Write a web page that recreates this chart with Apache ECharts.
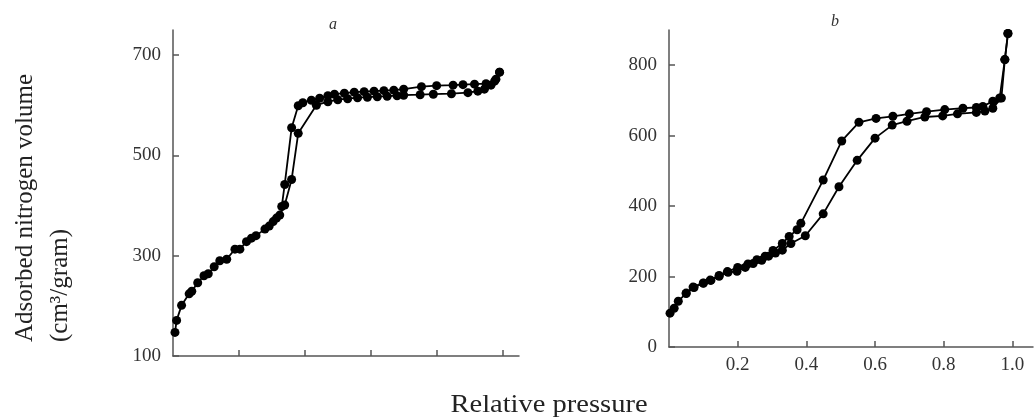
<!DOCTYPE html>
<html>
<head>
<meta charset="utf-8">
<script src="https://cdn.jsdelivr.net/npm/echarts@6/dist/echarts.min.js"></script>
<style>
  html, body { margin: 0; padding: 0; background: #fff; }
  #main { width: 1035px; height: 419px; }
</style>
</head>
<body>
<div id="main"></div>
<script>
// panel a: adsorption (lower) and desorption (upper) branches
var aAdsP = [0.006, 0.011, 0.026, 0.049, 0.057, 0.075, 0.094, 0.107, 0.125, 0.142, 0.163, 0.188, 0.203, 0.223, 0.238, 0.252, 0.279, 0.292, 0.304, 0.314, 0.324, 0.339, 0.36, 0.38, 0.435, 0.47, 0.50, 0.53, 0.56, 0.59, 0.62, 0.65, 0.68, 0.70, 0.75, 0.79, 0.845, 0.895, 0.925, 0.945, 0.965, 0.98, 0.991];
var aAdsV = [147, 171, 201, 224, 229, 246, 260, 264, 278, 290, 293, 313, 313, 328, 335, 340, 353, 359, 368, 375, 381, 401, 452, 544, 600, 607, 611, 613, 615, 616, 617, 618, 619, 620, 621, 622, 623, 625, 628, 632, 640, 652, 666];
var aDesP = [0.991, 0.976, 0.95, 0.915, 0.88, 0.85, 0.80, 0.754, 0.70, 0.67, 0.64, 0.61, 0.58, 0.55, 0.52, 0.49, 0.47, 0.445, 0.42, 0.394, 0.38, 0.36, 0.339, 0.33];
var aDesV = [666, 648, 643, 642, 641, 640, 639, 637, 632, 630, 629, 628, 627, 626, 624, 622, 619, 614, 610, 605, 599, 555, 442, 398];

// panel b
var bAdsP = [0.003, 0.015, 0.027, 0.05, 0.073, 0.1, 0.122, 0.146, 0.172, 0.198, 0.222, 0.245, 0.27, 0.29, 0.31, 0.33, 0.355, 0.397, 0.449, 0.495, 0.548, 0.60, 0.65, 0.693, 0.745, 0.797, 0.84, 0.895, 0.92, 0.943, 0.968, 0.978, 0.987];
var bAdsV = [96, 110, 130, 152, 169, 181, 189, 201, 212, 215, 226, 237, 246, 258, 267, 275, 294, 316, 378, 455, 530, 593, 630, 641, 653, 656, 662, 666, 670, 678, 707, 816, 890];
var bDesP = [0.987, 0.978, 0.963, 0.943, 0.914, 0.895, 0.856, 0.803, 0.75, 0.70, 0.652, 0.603, 0.553, 0.503, 0.449, 0.384, 0.373, 0.35, 0.33, 0.303, 0.28, 0.256, 0.23, 0.2, 0.17, 0.146, 0.12, 0.1, 0.07, 0.05];
var bDesV = [890, 816, 707, 698, 683, 680, 678, 674, 668, 662, 655, 649, 638, 585, 474, 351, 333, 314, 294, 274, 258, 248, 236, 226, 214, 203, 190, 182, 170, 153];

// tick labels
var aYTicks = [100, 300, 500, 700];
var bYTicks = [0, 200, 400, 600, 800];
var xTicks = [0.2, 0.4, 0.6, 0.8, 1.0];

function zip(xs, ys) {
  return xs.map(function (x, i) { return [x, ys[i]]; });
}

var serif = '"Liberation Serif", "DejaVu Serif", serif';
var axisColor = '#555';
var labelColor = '#333';

function xAxisOf(grid, max, showLabels) {
  return {
    type: 'value', gridIndex: grid, min: 0, max: max,
    axisLine: { show: true, lineStyle: { color: axisColor, width: 1.5 } },
    axisTick: { show: true, inside: true, length: 6, customValues: xTicks, lineStyle: { color: axisColor, width: 1.5 } },
    axisLabel: { show: showLabels, customValues: xTicks, margin: 9, color: labelColor, fontFamily: serif, fontSize: 19,
      formatter: function (v) { return v.toFixed(1); } },
    splitLine: { show: false }
  };
}

function yAxisOf(grid, min, max, ticks) {
  return {
    type: 'value', gridIndex: grid, min: min, max: max,
    axisLine: { show: true, lineStyle: { color: axisColor, width: 1.5 } },
    axisTick: { show: true, inside: true, length: 6, customValues: ticks, lineStyle: { color: axisColor, width: 1.5 } },
    axisLabel: { customValues: ticks, margin: 12, color: labelColor, fontFamily: serif, fontSize: 19 },
    splitLine: { show: false }
  };
}

function branch(data, idx) {
  return {
    type: 'line', xAxisIndex: idx, yAxisIndex: idx, data: data,
    symbol: 'circle', symbolSize: 9, showSymbol: true,
    lineStyle: { color: '#000', width: 1.8 },
    itemStyle: { color: '#000' },
    animation: false
  };
}

var myChart = echarts.init(document.getElementById('main'));
var option = {
  backgroundColor: '#fff',
  animation: false,
  grid: [
    { left: 173, top: 30, width: 346, height: 326 },
    { left: 669, top: 30, width: 364, height: 317 }
  ],
  xAxis: [xAxisOf(0, 1.05, false), xAxisOf(1, 1.06, true)],
  yAxis: [yAxisOf(0, 100, 750, aYTicks), yAxisOf(1, 0, 900, bYTicks)],
  series: [
    branch(zip(aAdsP, aAdsV), 0),
    branch(zip(aDesP, aDesV), 0),
    branch(zip(bAdsP, bAdsV), 1),
    branch(zip(bDesP, bDesV), 1)
  ],
  graphic: [
    { type: 'text', x: 333, y: 25, style: { text: 'a', font: 'italic 16px ' + serif, fill: '#333', textAlign: 'center', textVerticalAlign: 'middle' } },
    { type: 'text', x: 835, y: 22, style: { text: 'b', font: 'italic 16px ' + serif, fill: '#333', textAlign: 'center', textVerticalAlign: 'middle' } },
    { type: 'text', x: 25, y: 342, rotation: Math.PI / 2, style: { text: 'Adsorbed nitrogen volume', font: '25px ' + serif, fill: '#222', textAlign: 'left', textVerticalAlign: 'middle' } },
    { type: 'text', x: 60, y: 342, rotation: Math.PI / 2, style: { text: '(cm³/gram)', font: '25px ' + serif, fill: '#222', textAlign: 'left', textVerticalAlign: 'middle' } },
    { type: 'text', x: 549, y: 405, scaleX: 1.14, style: { text: 'Relative pressure', font: '25px ' + serif, fill: '#222', textAlign: 'center', textVerticalAlign: 'middle' } }
  ]
};
myChart.setOption(option);
</script>
</body>
</html>
